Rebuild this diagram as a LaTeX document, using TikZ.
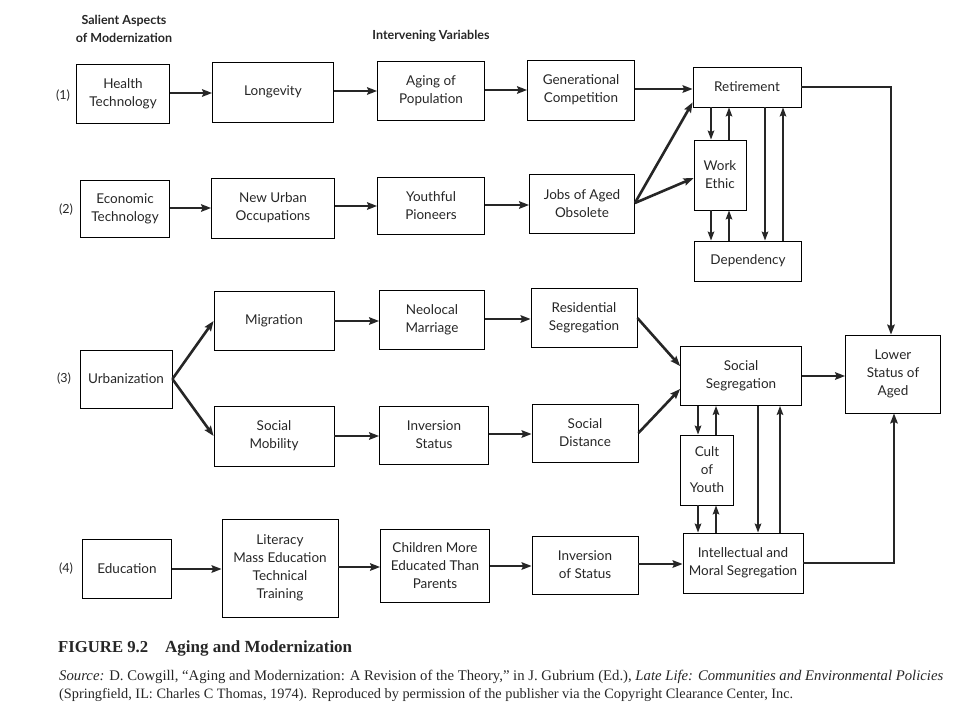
\documentclass[tikz,border=0pt]{standalone}
\usepackage{fontspec}
\setmainfont{Lato}
\newfontfamily\capfont{Liberation Serif}
\usetikzlibrary{arrows.meta,calc}
\begin{document}
\begin{tikzpicture}[x=1pt,y=-1pt,
  box/.style={draw, line width=0.8pt, align=center, inner sep=0pt, font=\fontsize{13.5}{18}\selectfont, text=black!85},
  arr/.style={-{Stealth[length=10pt,width=7.5pt,inset=1.5pt]}, line width=2.6pt, black!85},
  varr/.style={-{Stealth[length=9pt,width=6.5pt,inset=1.5pt]}, line width=2pt, black!85},
  lab/.style={font=\fontsize{12.5}{15}\selectfont, text=black!85},
  hdr/.style={font=\bfseries\fontsize{12.5}{18}\selectfont, align=center, text=black!85}]
\useasboundingbox (0,0) rectangle (960,720);
% headers
\node[hdr] (h1) at (124,29) {Salient Aspects\\of Modernization};
\node[hdr] (h2) at (431,36) {Intervening Variables};
% row labels
\node[lab] (l1) at (63,96) {(1)};
\node[lab] (l2) at (66,210) {(2)};
\node[lab] (l3) at (64,379) {(3)};
\node[lab] (l4) at (66,569) {(4)};
% row 1
\node[box, minimum width=93pt, minimum height=59pt] (ht) at (123,94) {Health\\Technology};
\node[box, minimum width=121pt, minimum height=60pt] (lon) at (273,92) {Longevity};
\node[box, minimum width=107pt, minimum height=59pt] (agp) at (431,91) {Aging of\\Population};
\node[box, minimum width=107pt, minimum height=60pt] (gen) at (581,90) {Generational\\Competition};
\node[box, minimum width=108pt, minimum height=40pt] (ret) at (747,87) {Retirement};
% row 2
\node[box, minimum width=89pt, minimum height=57pt] (et) at (125,209) {Economic\\Technology};
\node[box, minimum width=123pt, minimum height=60pt] (nuo) at (273,208) {New Urban\\Occupations};
\node[box, minimum width=107pt, minimum height=57pt] (yp) at (431,206) {Youthful\\Pioneers};
\node[box, minimum width=105pt, minimum height=59pt] (job) at (582,204) {Jobs of Aged\\Obsolete};
\node[box, minimum width=52pt, minimum height=70pt] (we) at (720,175) {Work\\Ethic};
\node[box, minimum width=107pt, minimum height=40pt] (dep) at (748,261) {Dependency};
% row 3
\node[box, minimum width=92pt, minimum height=58pt] (urb) at (126,379) {Urbanization};
\node[box, minimum width=120pt, minimum height=59pt] (mig) at (274,321) {Migration};
\node[box, minimum width=105pt, minimum height=59pt] (neo) at (432,320) {Neolocal\\Marriage};
\node[box, minimum width=106pt, minimum height=59pt] (res) at (584,318) {Residential\\Segregation};
\node[box, minimum width=120pt, minimum height=60pt] (smo) at (274,436) {Social\\Mobility};
\node[box, minimum width=109pt, minimum height=58pt] (inv) at (434,435) {Inversion\\Status};
\node[box, minimum width=106pt, minimum height=58pt] (sdi) at (585,433) {Social\\Distance};
\node[box, minimum width=121pt, minimum height=59pt] (ss) at (741,376) {Social\\Segregation};
\node[box, minimum width=95pt, minimum height=78pt] (low) at (893,374) {Lower\\Status of\\Aged};
\node[box, minimum width=53pt, minimum height=70pt] (cy) at (707,470) {Cult\\of\\Youth};
% row 4
\node[box, minimum width=89pt, minimum height=59pt] (edu) at (127,569) {Education};
\node[box, minimum width=116pt, minimum height=98pt] (lit) at (280,568) {Literacy\\Mass Education\\Technical\\Training};
\node[box, minimum width=109pt, minimum height=73pt] (chi) at (435,566) {Children More\\Educated Than\\Parents};
\node[box, minimum width=106pt, minimum height=58pt] (ios) at (585,565) {Inversion\\of Status};
\node[box, minimum width=120pt, minimum height=60pt] (ims) at (743,563) {Intellectual and\\Moral Segregation};
% row 1 arrows
\draw[arr] (ht.east |- 0,93) -- (lon.west |- 0,93);
\draw[arr] (lon.east |- 0,91) -- (agp.west |- 0,91);
\draw[arr] (agp.east |- 0,90) -- (gen.west |- 0,90);
\draw[arr] (gen.east |- 0,89) -- (ret.west |- 0,89);
% row 2 arrows
\draw[arr] (et.east |- 0,208) -- (nuo.west |- 0,208);
\draw[arr] (nuo.east |- 0,206) -- (yp.west |- 0,206);
\draw[arr] (yp.east |- 0,205) -- (job.west |- 0,205);
\draw[arr] (job.east |- 0,203) -- ([yshift=5pt]ret.south west);
\draw[arr] (job.east |- 0,203) -- (we.west |- 0,178);
% retirement cluster
\draw[varr] (ret.south -| 711,0) -- (we.north -| 711,0);
\draw[varr] (we.north -| 729,0) -- (ret.south -| 729,0);
\draw[varr] (we.south -| 711,0) -- (dep.north -| 711,0);
\draw[varr] (dep.north -| 729,0) -- (we.south -| 729,0);
\draw[varr] (ret.south -| 765,0) -- (dep.north -| 765,0);
\draw[varr] (dep.north -| 783,0) -- (ret.south -| 783,0);
\draw[arr] (ret.east) -| (low.north -| 891,0);
% row 3 arrows
\draw[arr] (urb.east) -- (mig.west);
\draw[arr] (urb.east) -- (smo.west);
\draw[arr] (mig.east |- 0,321) -- (neo.west |- 0,321);
\draw[arr] (neo.east |- 0,319) -- (res.west |- 0,319);
\draw[arr] (smo.east |- 0,436) -- (inv.west |- 0,436);
\draw[arr] (inv.east |- 0,434) -- (sdi.west |- 0,434);
\draw[arr] (res.east) -- ([yshift=10pt]ss.west);
\draw[arr] (sdi.east) -- ([yshift=-13pt]ss.west);
\draw[arr] (ss.east |- 0,376) -- (low.west |- 0,376);
% social segregation cluster
\draw[varr] (ss.south -| 698,0) -- (cy.north -| 698,0);
\draw[varr] (cy.north -| 716,0) -- (ss.south -| 716,0);
\draw[varr] (cy.south -| 698,0) -- (ims.north -| 698,0);
\draw[varr] (ims.north -| 716,0) -- (cy.south -| 716,0);
\draw[varr] (ss.south -| 758,0) -- (ims.north -| 758,0);
\draw[varr] (ims.north -| 780,0) -- (ss.south -| 780,0);
\draw[arr] (ims.east) -| (low.south -| 894,0);
% row 4 arrows
\draw[arr] (edu.east |- 0,569) -- (lit.west |- 0,569);
\draw[arr] (lit.east |- 0,567) -- (chi.west |- 0,567);
\draw[arr] (chi.east |- 0,566) -- (ios.west |- 0,566);
\draw[arr] (ios.east |- 0,564) -- (ims.west |- 0,564);
% caption
\node[anchor=west, inner sep=0pt, font=\capfont\bfseries\fontsize{16}{18}\selectfont, text=black!85] (cap) at (58,648) {\resizebox{90pt}{!}{FIGURE 9.2}\hspace{17pt}\resizebox{187pt}{!}{Aging and Modernization}};
\node[anchor=west, inner sep=0pt, font=\capfont\fontsize{12}{15}\selectfont, text=black!85] (src1) at (59,677) {\resizebox{884pt}{!}{\itshape Source:\upshape{} D. Cowgill, “Aging and Modernization: A Revision of the Theory,” in J. Gubrium (Ed.), \itshape Late Life: Communities and Environmental Policies}};
\node[anchor=west, inner sep=0pt, font=\capfont\fontsize{12}{15}\selectfont, text=black!85] (src2) at (59,695) {\resizebox{734pt}{!}{(Springfield, IL: Charles C Thomas, 1974). Reproduced by permission of the publisher via the Copyright Clearance Center, Inc.}};
\end{tikzpicture}
\end{document}
